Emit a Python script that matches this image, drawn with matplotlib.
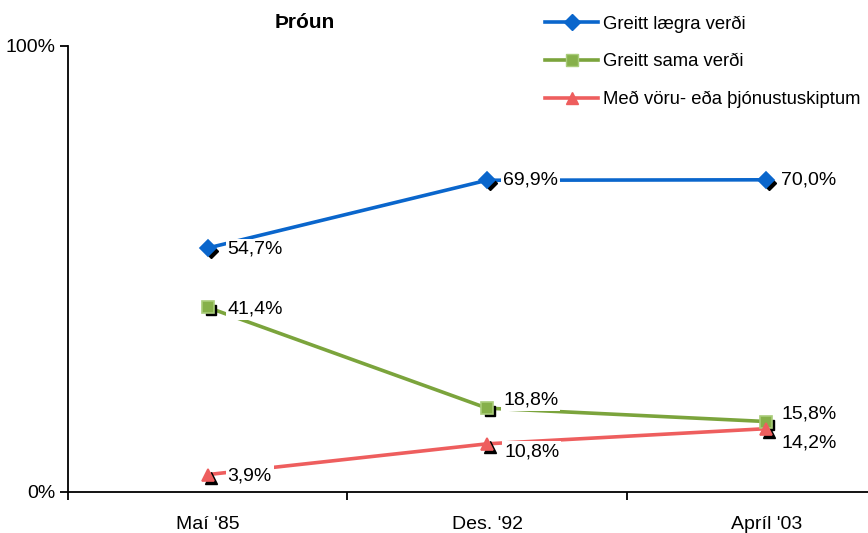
import matplotlib
matplotlib.use("Agg")
import matplotlib.pyplot as plt
import matplotlib.transforms as mtransforms
from matplotlib.lines import Line2D

plt.rcParams['font.family'] = ['Liberation Sans', 'DejaVu Sans']

categories = ["Maí '85", "Des. '92", "Apríl '03"]
lower_price = [54.7, 69.9, 70.0]
same_price = [41.4, 18.8, 15.8]
exchange = [3.9, 10.8, 14.2]
series_names = ["Greitt lægra verði", "Greitt sama verði", "Með vöru- eða þjónustuskiptum"]
title = "Þróun"

colors = ["#0A66CC", "#7BA43C", "#EE5E5E"]
markers = ["D", "s", "^"]
msizes = [8, 8, 9]
mfc = ["#0A66CC", "#86B04A", "#EE5E5E"]
mec = ["#0A66CC", "#A9CC7A", "#EE5E5E"]
# label offsets in pixels (dx, dy)
label_offsets = [
    [(20, -1), (16, 0), (15, 0)],
    [(20, -2), (16, 8), (15, 8)],
    [(20, -1), (17, -8), (15, -14)],
]

fig = plt.figure(figsize=(8.68, 5.33), dpi=100)
ax = fig.add_axes([68/868, 41/533, 838/868, 446/533])
ax.set_xlim(-0.5, 2.5)
ax.set_ylim(0, 100)

x = list(range(len(categories)))
shadow = mtransforms.offset_copy(ax.transData, fig=fig, x=3, y=-3, units='dots')
all_series = [lower_price, same_price, exchange]
handles = []
for i, s in enumerate(all_series):
    ax.plot(x, s, color=colors[i], lw=2.6, zorder=2, solid_capstyle='butt')
    ax.plot(x, s, linestyle='none', marker=markers[i], ms=msizes[i] - 1, color='black',
            transform=shadow, zorder=3)
    ax.plot(x, s, linestyle='none', marker=markers[i], ms=msizes[i], markerfacecolor=mfc[i],
            markeredgecolor=mec[i], markeredgewidth=1.2, zorder=4)
    for j, v in enumerate(s):
        dx, dy = label_offsets[i][j]
        ax.annotate(f"{v:.1f}%".replace('.', ','), (x[j], v), xytext=(dx, dy),
                    textcoords='offset pixels', ha='left', va='center', fontsize=14,
                    zorder=5,
                    bbox=dict(boxstyle='square,pad=0.1', fc='white', ec='none'))
    handles.append(Line2D([], [], color=colors[i], lw=2.6, marker=markers[i], ms=msizes[i],
                          markerfacecolor=mfc[i], markeredgecolor=mec[i]))

for sp in ['top', 'right']:
    ax.spines[sp].set_visible(False)
for sp in ['left', 'bottom']:
    ax.spines[sp].set_linewidth(1.3)
    ax.spines[sp].set_color('black')

ax.set_xticks(x)
ax.set_xticklabels(categories, fontsize=14)
ax.tick_params(axis='x', which='major', length=0, pad=17)
ax.set_xticks([-0.5, 0.5, 1.5, 2.5], minor=True)
ax.tick_params(axis='x', which='minor', length=6, width=1.3, direction='out')
ax.set_yticks([0, 100])
ax.set_yticklabels(["0%", "100%"], fontsize=14)
ax.tick_params(axis='y', length=6, width=1.3, direction='out', pad=3)

fig.text(305/868, 1 - 22/533, title, ha='center', va='center', fontsize=15, fontweight='bold')

fig.legend(handles, series_names, loc='upper left', bbox_to_anchor=(538/868, 1 - 8/533),
           frameon=False, fontsize=13.3, handlelength=2.87, labelspacing=1.12,
           handletextpad=0.27, borderaxespad=0)

fig.savefig("out.png", dpi=100)
